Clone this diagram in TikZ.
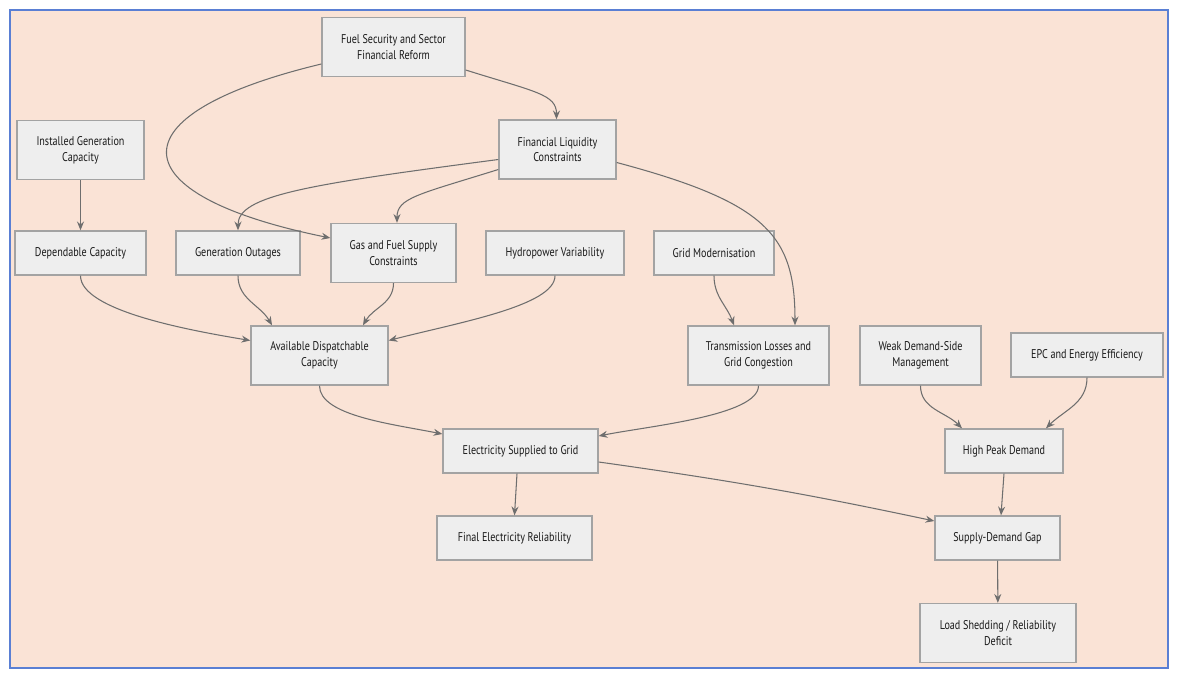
\documentclass[tikz,border=0pt]{standalone}
\usepackage{fontspec}
\setmainfont{PT Sans}[FakeStretch=0.8]
\usepackage{xcolor}
\usepackage{tikz}
\usetikzlibrary{arrows.meta, positioning, calc}
\definecolor{peach}{HTML}{FAE3D6}
\definecolor{frameblue}{HTML}{5A7FD4}
\definecolor{boxfill}{HTML}{EEEEEE}
\definecolor{boxline}{HTML}{A3A3A3}
\definecolor{linkgray}{HTML}{6E6E6E}
\tikzstyle{factor} = [rectangle, minimum height=0.88cm, align=center, inner sep=2pt, draw=boxline, line width=0.8pt, fill=boxfill, text=black!90, font=\fontsize{7.2}{9}\selectfont]
\tikzstyle{tall} = [minimum height=1.18cm]
\tikzstyle{link} = [linkgray, line width=0.6pt, -{Stealth[length=5pt, width=4pt]}]

\begin{document}
\begin{tikzpicture}[x=0.02cm, y=0.02cm]
    % Frame
    \useasboundingbox (0,0) rectangle (1178,-680);
    \draw[frameblue, line width=1.3pt, fill=peach] (10,-10) rectangle (1168,-668);

    % Top row
    \node[factor, tall, minimum width=2.86cm] (fuel) at (393.5,-47) {Fuel Security and Sector\\Financial Reform};
    \node[factor, tall, minimum width=2.34cm] (liq) at (557.5,-149.5) {Financial Liquidity\\Constraints};
    \node[factor, tall, minimum width=2.54cm] (inst) at (80.5,-150) {Installed Generation\\Capacity};

    % Drivers
    \node[factor, minimum width=2.62cm] (dep) at (80.5,-253) {Dependable Capacity};
    \node[factor, minimum width=2.48cm] (outg) at (238,-253) {Generation Outages};
    \node[factor, tall, minimum width=2.50cm] (gas) at (393.5,-253) {Gas and Fuel Supply\\Constraints};
    \node[factor, minimum width=2.76cm] (hydro) at (555,-253) {Hydropower Variability};
    \node[factor, minimum width=2.40cm] (gridm) at (714,-253) {Grid Modernisation};

    % Middle row
    \node[factor, tall, minimum width=2.74cm] (avail) at (319.5,-355.5) {Available Dispatchable\\Capacity};
    \node[factor, tall, minimum width=2.82cm] (trans) at (758.5,-355.5) {Transmission Losses and\\Grid Congestion};
    \node[factor, tall, minimum width=2.42cm] (weak) at (920.5,-355.5) {Weak Demand-Side\\Management};
    \node[factor, minimum width=3.04cm] (epc) at (1087,-355) {EPC and Energy Efficiency};

    % Outcomes
    \node[factor, minimum width=3.10cm] (elec) at (520.5,-451) {Electricity Supplied to Grid};
    \node[factor, minimum width=2.36cm] (peak) at (1004,-451) {High Peak Demand};
    \node[factor, minimum width=3.10cm] (final) at (514.5,-538) {Final Electricity Reliability};
    \node[factor, minimum width=2.50cm] (gap) at (997.5,-538) {Supply-Demand Gap};
    \node[factor, tall, minimum width=3.12cm] (load) at (998,-633) {Load Shedding / Reliability\\Deficit};

    % Finance links
    \draw[link] ([yshift=-0.46cm]fuel.east) .. controls +(70,-22) and +(0,25) .. ([xshift=-0.02cm]liq.north);
    \draw[link] ([yshift=-0.34cm]fuel.west) .. controls +(-212,-51) and +(-211,43) .. ([yshift=0.3cm]gas.west);
    \draw[link] ([yshift=-0.2cm]liq.west) .. controls +(-190,-25) and +(0,35) .. (outg.north);
    \draw[link] ([yshift=-0.4cm]liq.west) .. controls +(-80,-25) and +(0,25) .. ([xshift=0.07cm]gas.north);
    \draw[link] ([yshift=-0.26cm]liq.east) .. controls +(150,-40) and +(0,90) .. ([xshift=0.73cm]trans.north);
    \draw[link] (inst) -- (dep);

    % Supply side
    \draw[link] (dep.south) .. controls +(0,-35) and +(-60,10) .. ([yshift=0.3cm]avail.west);
    \draw[link] (outg.south) to[out=-90, in=120] ([xshift=-0.95cm]avail.north);
    \draw[link] (gas.south) to[out=-90, in=60] ([xshift=0.87cm]avail.north);
    \draw[link] (hydro.south) .. controls +(0,-30) and +(70,18) .. ([yshift=0.3cm]avail.east);
    \draw[link] (gridm.south) to[out=-90, in=110] ([xshift=-0.49cm]trans.north);
    \draw[link] (avail.south) .. controls +(0,-30) and +(-50,10) .. ([yshift=0.34cm]elec.west);
    \draw[link] (trans.south) .. controls +(0,-30) and +(50,10) .. ([yshift=0.3cm]elec.east);
    \draw[link] ([xshift=-0.07cm]elec.south) -- (final.north);
    \draw[link] ([yshift=-0.22cm]elec.east) to[out=-8, in=168] ([yshift=0.34cm]gap.west);

    % Demand side
    \draw[link] (weak.south) to[out=-90, in=135] ([xshift=-0.84cm]peak.north);
    \draw[link] (epc.south) to[out=-90, in=45] ([xshift=0.84cm]peak.north);
    \draw[link] (peak.south) -- ([xshift=0.07cm]gap.north);
    \draw[link] (gap) -- (load);
\end{tikzpicture}
\end{document}
